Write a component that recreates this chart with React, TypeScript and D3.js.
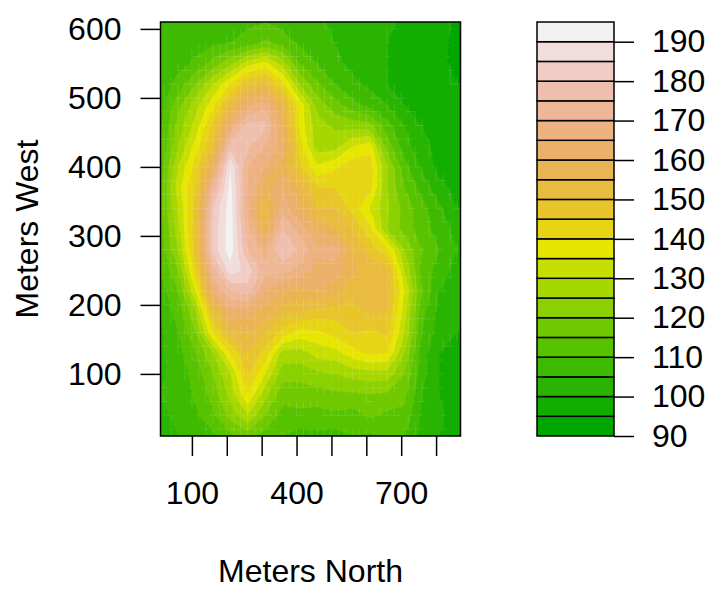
import { useEffect, useRef } from 'react';
import * as d3 from 'd3';

// grid positions of the height readings (meters)
const northGrid = [10, 60, 110, 160, 210, 260, 310, 360, 410, 460, 510, 560, 610, 660, 710, 760, 810, 860];
const westGrid = [610, 580, 550, 520, 490, 460, 430, 400, 370, 340, 310, 280, 250, 220, 190, 160, 130, 100, 70, 40, 10];

// height readings, one list per row, top of the plot first
const row610 = [106, 107, 107, 107, 108, 109, 110, 108, 107, 106, 104, 103, 102, 101, 99, 98, 97, 94];
const row580 = [106, 107, 108, 109, 110, 112, 116, 113, 109, 107, 105, 103, 101, 100, 98, 97, 96, 94];
const row550 = [106, 108, 111, 117, 124, 133, 137, 128, 115, 110, 106, 104, 102, 100, 98, 97, 96, 94];
const row520 = [107, 112, 120, 130, 140, 149, 152, 142, 125, 116, 110, 106, 104, 100, 98, 97, 96, 95];
const row490 = [108, 118, 128, 138, 152, 164, 168, 155, 138, 123, 117, 112, 108, 105, 100, 97, 96, 95];
const row460 = [109, 122, 132, 146, 165, 177, 177, 160, 138, 127, 124, 123, 122, 112, 105, 100, 97, 95];
const row430 = [110, 125, 137, 150, 178, 176, 170, 163, 142, 127, 128, 135, 138, 118, 107, 102, 98, 96];
const row400 = [112, 130, 142, 160, 190, 170, 165, 158, 146, 136, 139, 143, 143, 125, 112, 104, 98, 97];
const row370 = [113, 133, 145, 172, 192, 170, 158, 165, 155, 145, 145, 143, 142, 125, 115, 108, 102, 98];
const row340 = [114, 130, 147, 180, 193, 168, 152, 168, 160, 150, 150, 143, 135, 126, 118, 112, 106, 100];
const row310 = [113, 128, 148, 182, 193, 172, 156, 175, 168, 160, 155, 150, 141, 125, 118, 112, 108, 103];
const row280 = [112, 125, 148, 182, 193, 175, 168, 180, 174, 166, 168, 155, 148, 141, 125, 115, 110, 105];
const row250 = [110, 120, 143, 172, 188, 183, 172, 172, 168, 163, 163, 156, 153, 152, 130, 113, 108, 103];
const row220 = [108, 115, 135, 165, 175, 178, 165, 160, 158, 160, 157, 152, 152, 152, 135, 115, 105, 101];
const row190 = [106, 112, 125, 150, 163, 162, 158, 152, 150, 148, 147, 148, 151, 150, 132, 112, 103, 101];
const row160 = [104, 110, 120, 140, 153, 155, 150, 143, 138, 139, 142, 145, 144, 146, 130, 110, 103, 100];
const row130 = [104, 108, 115, 125, 140, 150, 143, 128, 128, 132, 133, 138, 141, 140, 125, 107, 100, 97];
const row100 = [104, 107, 112, 120, 130, 146, 135, 122, 122, 124, 125, 127, 128, 128, 120, 107, 100, 98];
const row70 = [105, 106, 111, 117, 127, 140, 127, 117, 117, 118, 119, 119, 120, 119, 116, 105, 100, 98];
const row40 = [104, 106, 109, 114, 122, 130, 120, 113, 114, 113, 114, 113, 116, 114, 114, 104, 101, 97];
const row10 = [104, 105, 107, 109, 114, 117, 113, 110, 108, 109, 108, 110, 109, 111, 110, 103, 100, 99];

const rows = [row610, row580, row550, row520, row490, row460, row430, row400, row370, row340, row310,
  row280, row250, row220, row190, row160, row130, row100, row70, row40, row10];

const levels = d3.range(90, 200, 5);
const legendTicks = [90, 100, 110, 120, 130, 140, 150, 160, 170, 180, 190];
const northTicks = [100, 200, 300, 400, 500, 600, 700, 800];
const northLabels = [100, 400, 700];
const westTicks = [100, 200, 300, 400, 500, 600];

// same ramp as R's terrain.colors
const hsv = (h: number, s: number, v: number) => {
  const f = (n: number) => {
    const k = (n + h * 6) % 6;
    return v - v * s * Math.max(0, Math.min(k, 4 - k, 1));
  };
  return d3.rgb(f(5) * 255, f(3) * 255, f(1) * 255).formatHex();
};
const terrain = (n: number) => {
  const k = Math.floor(n / 2);
  const out: string[] = [];
  for (let i = 0; i < k; i++) {
    const t = i / (k - 1);
    out.push(hsv((4 / 12) * (1 - t) + (2 / 12) * t, 1, 0.65 + 0.25 * t));
  }
  for (let i = 1; i <= n - k; i++) {
    const t = i / (n - k);
    out.push(hsv((2 / 12) * (1 - t), 1 - t, 0.9 + 0.05 * t));
  }
  return out;
};
const colors = terrain(levels.length - 1);

const font = '"Liberation Sans", Arial, sans-serif';
const fontSize = 32;

// height at any point of the plot
const heightAt = (north: number, west: number) => {
  const fx = Math.min(Math.max((north - northGrid[0]) / 50, 0), northGrid.length - 1.001);
  const fy = Math.min(Math.max((westGrid[0] - west) / 30, 0), westGrid.length - 1.001);
  const i = Math.floor(fx);
  const j = Math.floor(fy);
  const a = d3.interpolateNumber(rows[j][i], rows[j][i + 1])(fx - i);
  const b = d3.interpolateNumber(rows[j + 1][i], rows[j + 1][i + 1])(fx - i);
  return a + (b - a) * (fy - j);
};

const App = () => {
  const svgRef = useRef<SVGSVGElement>(null);

  useEffect(() => {
    const svg = d3.select(svgRef.current);
    svg.selectAll('*').remove();

    const x = d3.scaleLinear().domain([10, 870]).range([160.5, 460.5]);
    const y = d3.scaleLinear().domain([10, 610]).range([436, 22]);
    const yLegend = d3.scaleLinear().domain([90, 195]).range([436, 22]);

    // contour coordinates -> plot pixels
    const cx = d3.scaleLinear().domain([0.5, northGrid.length - 0.5])
      .range([x(northGrid[0]), x(northGrid[northGrid.length - 1])]);
    const cy = d3.scaleLinear().domain([0.5, westGrid.length - 0.5])
      .range([y(westGrid[0]), y(westGrid[westGrid.length - 1])]);
    const path = d3.geoPath(d3.geoTransform({
      point(px, py) {
        this.stream.point(cx(px), cy(py));
      },
    }));

    const contours = d3.contours()
      .size([northGrid.length, westGrid.length])
      .thresholds(levels.slice(0, -1))(rows.flat());

    svg.append('clipPath').attr('id', 'plot-clip').append('rect')
      .attr('x', x(10)).attr('y', y(610))
      .attr('width', x(870) - x(10)).attr('height', y(10) - y(610));

    const plot = svg.append('g').attr('clip-path', 'url(#plot-clip)');
    plot.append('rect')
      .attr('x', x(10)).attr('y', y(610))
      .attr('width', x(870) - x(10)).attr('height', y(10) - y(610))
      .attr('fill', colors[0]);
    plot.selectAll('path.band')
      .data(contours)
      .enter().append('path')
      .attr('class', 'band')
      .attr('d', d => path(d))
      .attr('fill', (d, i) => colors[i]);

    // filled.contour paints cell by cell, so cell edges show as faint seams where bands cross
    const seams = d3.path();
    for (const north of d3.range(10, 870, 10)) {
      for (const west of d3.range(10, 610, 10)) {
        const v = [heightAt(north, west), heightAt(north + 10, west), heightAt(north, west + 10), heightAt(north + 10, west + 10)];
        if (Math.floor(d3.min(v)! / 5) !== Math.floor(d3.max(v)! / 5)) {
          if ((north / 10) % 2 === 0) {
            seams.moveTo(x(north), y(west));
            seams.lineTo(x(north), y(west + 10));
          }
          if ((west / 10) % 2 === 0) {
            seams.moveTo(x(north), y(west));
            seams.lineTo(x(north + 10), y(west));
          }
        }
      }
    }
    plot.append('path')
      .attr('d', seams.toString())
      .attr('fill', 'none')
      .attr('stroke', 'white')
      .attr('stroke-opacity', 0.18)
      .attr('stroke-width', 0.7);

    svg.append('rect')
      .attr('x', x(10)).attr('y', y(610))
      .attr('width', x(870) - x(10)).attr('height', y(10) - y(610))
      .attr('fill', 'none').attr('stroke', 'black').attr('stroke-width', 1.5);

    // axes
    const styleAxis = (g: any) => {
      g.select('.domain').remove();
      g.selectAll('line').attr('stroke', 'black').attr('stroke-width', 1.5);
      g.selectAll('text').attr('fill', 'black').style('font-family', font).style('font-size', `${fontSize}px`);
    };

    svg.append('g')
      .attr('transform', `translate(0,${y(10)})`)
      .call(d3.axisBottom(x).tickValues(northTicks).tickSize(20).tickPadding(25)
        .tickFormat(d => (northLabels.includes(+d) ? String(d) : '')))
      .call(styleAxis);

    svg.append('g')
      .attr('transform', `translate(${x(10)},0)`)
      .call(d3.axisLeft(y).tickValues(westTicks).tickSize(20).tickPadding(19).tickFormat(d => String(d)))
      .call(styleAxis);

    // legend
    const legendLeft = 537;
    const legendRight = 614;
    svg.append('g').selectAll('rect')
      .data(colors)
      .enter().append('rect')
      .attr('x', legendLeft)
      .attr('y', (d, i) => yLegend(levels[i + 1]))
      .attr('width', legendRight - legendLeft)
      .attr('height', (d, i) => yLegend(levels[i]) - yLegend(levels[i + 1]))
      .attr('fill', d => d)
      .attr('stroke', 'black')
      .attr('stroke-width', 1.5);

    svg.append('g')
      .attr('transform', `translate(${legendRight},0)`)
      .call(d3.axisRight(yLegend).tickValues(legendTicks).tickSize(20).tickPadding(18).tickFormat(d => String(d)))
      .call(styleAxis);

    // axis titles
    svg.append('text')
      .attr('x', 310.5).attr('y', 582)
      .attr('text-anchor', 'middle')
      .style('font-family', font).style('font-size', `${fontSize}px`)
      .text('Meters North');

    svg.append('text')
      .attr('transform', 'translate(38,229) rotate(-90)')
      .attr('text-anchor', 'middle')
      .style('font-family', font).style('font-size', `${fontSize}px`)
      .text('Meters West');
  }, []);

  return <svg ref={svgRef} width={712} height={592} style={{ position: 'absolute', left: 0, top: 0 }} />;
};

export default App;
